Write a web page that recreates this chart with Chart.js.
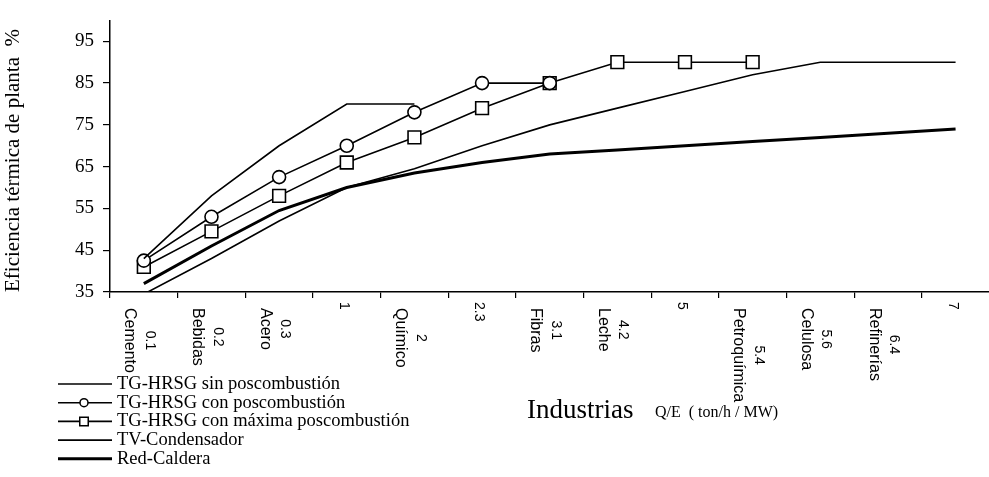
<!DOCTYPE html>
<html>
<head>
<meta charset="utf-8">
<script src="https://cdn.jsdelivr.net/npm/chart.js@4.4.1/dist/chart.umd.min.js"></script>
<style>
  html, body { margin: 0; padding: 0; background: #fff; overflow: hidden; }
  #wrap { width: 1000px; height: 477px; }
</style>
</head>
<body>
<div id="wrap"><canvas id="chart" width="1000" height="477"></canvas></div>
<script>
// Q/E ratio (ton/h / MW) for each category, and the industry written beside it
const qeLabels = ['0.1', '0.2', '0.3', '1', '2', '2.3', '3.1', '4.2', '5', '5.4', '5.6', '6.4', '7'];
const industries = ['Cemento', 'Bebidas', 'Acero', '', 'Químico', '', 'Fibras', 'Leche', '', 'Petroquímica', 'Celulosa', 'Refinerías', ''];

// Plant thermal efficiency (%)
const sinPoscomb = [43, 58, 70, 80, 80];
const conPoscomb = [42.5, 53, 62.5, 70, 78, 85, 85];
const maxPoscomb = [41, 49.5, 58, 66, 72, 79, 85, 90, 90, 90];
const tvCondensador = [34.5, 43, 52, 60, 64.5, 70, 75, 79, 83, 87, 90, 90, 90];
const redCaldera = [37, 46, 54.5, 60, 63.5, 66, 68, 69, 70, 71, 72, 73, 74];

const yTicks = [35, 45, 55, 65, 75, 85, 95];

const serif = '"Liberation Serif", "Times New Roman", serif';
const sans = '"Liberation Sans", Arial, sans-serif';

// Draws the rotated category labels, the axis caption and the legend block
const extrasPlugin = {
    id: 'extras',
    afterDraw(chart) {
        const ctx = chart.ctx;
        const xScale = chart.scales.x;
        ctx.save();
        ctx.fillStyle = '#000';

        // Category labels, rotated to read top-down
        qeLabels.forEach((num, i) => {
            const x = xScale.getPixelForValue(i);
            const name = industries[i];
            ctx.textBaseline = 'middle';
            if (name) {
                ctx.font = '16px ' + sans;
                const w = ctx.measureText(name).width;
                ctx.save();
                ctx.translate(x - 14, 308);
                ctx.rotate(Math.PI / 2);
                ctx.textAlign = 'left';
                ctx.fillText(name, 0, 0);
                ctx.restore();

                ctx.font = '14px ' + sans;
                ctx.save();
                ctx.translate(x + 6, 308 + w / 2);
                ctx.rotate(Math.PI / 2);
                ctx.textAlign = 'center';
                ctx.fillText(num, 0, 0);
                ctx.restore();
            } else {
                ctx.font = '14px ' + sans;
                ctx.save();
                ctx.translate(x - 3, 302);
                ctx.rotate(Math.PI / 2);
                ctx.textAlign = 'left';
                ctx.fillText(num, 0, 0);
                ctx.restore();
            }
        });

        // Axis caption
        ctx.textAlign = 'left';
        ctx.textBaseline = 'alphabetic';
        ctx.font = '27px ' + serif;
        ctx.fillText('Industrias', 527, 418);
        ctx.font = '16px ' + serif;
        ctx.fillText('Q/E  ( ton/h / MW)', 655, 417);

        // Legend
        chart.data.datasets.forEach((ds, i) => {
            const y = 384 + i * 18.7;
            ctx.strokeStyle = '#000';
            ctx.lineWidth = ds.borderWidth;
            ctx.beginPath();
            ctx.moveTo(58, y);
            ctx.lineTo(112, y);
            ctx.stroke();
            if (ds.pointRadius > 0) {
                ctx.fillStyle = '#fff';
                ctx.lineWidth = 1.5;
                Chart.helpers.drawPoint(ctx, {
                    pointStyle: ds.pointStyle,
                    radius: ds.pointStyle === 'rect' ? 6 : 4,
                    borderWidth: 1.5
                }, 84, y);
            }
            ctx.fillStyle = '#000';
            ctx.font = '18.5px ' + serif;
            ctx.textBaseline = 'middle';
            ctx.fillText(ds.label, 117, y);
        });
        ctx.restore();
    }
};

new Chart(document.getElementById('chart'), {
    type: 'line',
    data: {
        labels: qeLabels,
        datasets: [
            {
                label: 'TG-HRSG sin poscombustión',
                data: sinPoscomb,
                borderColor: '#000', borderWidth: 1.6,
                pointRadius: 0
            },
            {
                label: 'TG-HRSG con poscombustión',
                data: conPoscomb,
                borderColor: '#000', borderWidth: 1.6,
                pointStyle: 'circle', pointRadius: 6.5,
                pointBorderWidth: 1.6, pointBorderColor: '#000', pointBackgroundColor: '#fff'
            },
            {
                label: 'TG-HRSG con máxima poscombustión',
                data: maxPoscomb,
                borderColor: '#000', borderWidth: 1.6,
                pointStyle: 'rect', pointRadius: 9,
                pointBorderWidth: 1.6, pointBorderColor: '#000', pointBackgroundColor: '#fff'
            },
            {
                label: 'TV-Condensador',
                data: tvCondensador,
                borderColor: '#000', borderWidth: 1.6,
                pointRadius: 0
            },
            {
                label: 'Red-Caldera',
                data: redCaldera,
                borderColor: '#000', borderWidth: 3,
                pointRadius: 0
            }
        ]
    },
    options: {
        responsive: false,
        animation: false,
        layout: { padding: { left: 0, top: 13, right: 3, bottom: 179 } },
        elements: { line: { tension: 0 } },
        plugins: {
            legend: { display: false },
            tooltip: { enabled: false }
        },
        scales: {
            x: {
                offset: true,
                grid: { offset: true, drawOnChartArea: false, tickLength: 6, color: '#000', lineWidth: 1.2 },
                border: { color: '#000', width: 1.5 },
                ticks: { display: false },
                afterFit: (scale) => { scale.height = 6; }
            },
            y: {
                min: 35,
                max: 100,
                afterBuildTicks: (axis) => { axis.ticks = yTicks.map(v => ({ value: v })); },
                grid: { drawOnChartArea: false, tickLength: 7, color: '#000', lineWidth: 1.2 },
                border: { color: '#000', width: 1.5 },
                ticks: { padding: 9, color: '#000', font: { family: serif, size: 19 } },
                title: {
                    display: true,
                    text: 'Eficiencia térmica de planta  %',
                    align: 'start',
                    color: '#000',
                    font: { family: serif, size: 21 },
                    padding: { top: 1, bottom: 0 }
                },
                afterFit: (scale) => { scale.width = 110; }
            }
        }
    },
    plugins: [extrasPlugin]
});
</script>
</body>
</html>
